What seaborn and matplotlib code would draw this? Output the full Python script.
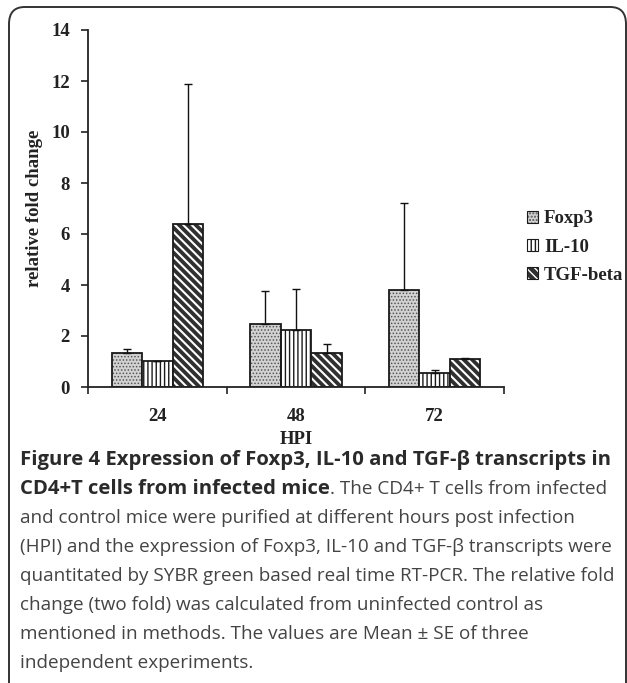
import matplotlib
matplotlib.use("Agg")
import matplotlib.pyplot as plt
import seaborn as sns
import pandas as pd
import numpy as np
from matplotlib.patches import FancyBboxPatch, Patch

# ---- data ----
hpi = ["24", "48", "72"]
series = ["Foxp3", "IL-10", "TGF-beta"]
foxp3 = [1.34, 2.47, 3.80]
il10 = [1.02, 2.24, 0.54]
tgfb = [6.38, 1.33, 1.10]
foxp3_top = [1.50, 3.78, 7.20]
il10_top = [1.02, 3.83, 0.68]
tgfb_top = [11.87, 1.67, 1.15]
yticks = [0, 2, 4, 6, 8, 10, 12, 14]

caption_bold1 = "Figure 4 Expression of Foxp3, IL-10 and TGF-\u03b2 transcripts in"
caption_bold2 = "CD4+T cells from infected mice"
caption_rest2 = ". The CD4+ T cells from infected"
caption_lines = [
    "and control mice were purified at different hours post infection",
    "(HPI) and the expression of Foxp3, IL-10 and TGF-\u03b2 transcripts were",
    "quantitated by SYBR green based real time RT-PCR. The relative fold",
    "change (two fold) was calculated from uninfected control as",
    "mentioned in methods. The values are Mean \u00b1 SE of three",
    "independent experiments.",
]

sns.set_style("white")
serif = ["Liberation Serif", "DejaVu Serif"]
sans = ["Open Sans", "DejaVu Sans"]
FS = 13.5

W, H = 627, 683
fig = plt.figure(figsize=(W / 100, H / 100), dpi=100)

# frame
frame = FancyBboxPatch((9 / W, 1 - 700 / H), (617 / W), (693 / H),
                       boxstyle="round,pad=0,rounding_size=0.025",
                       transform=fig.transFigure, fill=False,
                       edgecolor="#333333", linewidth=1.4, clip_on=False)
fig.patches.append(frame)

ax = fig.add_axes([88 / W, 1 - 387 / H, 416 / W, 357 / H])

df = pd.DataFrame({
    "HPI": hpi * 3,
    "series": sum([[s] * 3 for s in series], []),
    "value": foxp3 + il10 + tgfb,
})
tops = foxp3_top + il10_top + tgfb_top

sns.barplot(data=df, x="HPI", y="value", hue="series", order=hpi,
            hue_order=series, errorbar=None, width=0.66, ax=ax,
            palette=["#c4c4c4", "white", "white"], edgecolor="#1a1a1a",
            linewidth=1.3, legend=False, saturation=1)

hatches = [".....", "||||", "\\\\\\\\"]
faces = ["#d2d2d2", "white", "#303030"]
hcols = ["#555555", "#1a1a1a", "#ffffff"]
hlw = [0.7, 1.0, 1.5]


def style_patch(p, s):
    p.set_hatch(hatches[s])
    p.set_facecolor(faces[s])
    p.set_edgecolor("#1a1a1a")
    try:
        p.set_hatch_linewidth(hlw[s])
    except Exception:
        pass
    p._hatch_color = matplotlib.colors.to_rgba(hcols[s])


bars = [p for p in ax.patches]
for i, p in enumerate(bars):
    style_patch(p, i // 3)

xs = [p.get_x() + p.get_width() / 2 for p in bars]
vals = [p.get_height() for p in bars]
up = [max(t - v, 0) for t, v in zip(tops, vals)]
ax.errorbar(xs, vals, yerr=[np.zeros(len(up)), up], fmt="none",
            ecolor="#111111", elinewidth=1.0, capsize=3.2, capthick=1.0)

ax.set_ylim(0, 14)
ax.set_xlim(-0.5, 2.5)
ax.set_yticks(yticks)
ax.set_yticklabels([str(t) for t in yticks], family=serif, fontweight="bold",
                   fontsize=FS, color="#222222")
ax.set_xticks(range(3))
ax.set_xticklabels(hpi, family=serif, fontweight="bold", fontsize=FS,
                   color="#222222")
ax.set_xticks([-0.5, 0.5, 1.5, 2.5], minor=True)
ax.tick_params(axis="x", which="major", length=0, pad=15)
ax.tick_params(axis="x", which="minor", length=5, width=1.2, direction="out",
               color="#222222", bottom=True)
ax.tick_params(axis="y", length=5, width=1.2, direction="out", pad=8,
               color="#222222", left=True)
for sp in ["top", "right"]:
    ax.spines[sp].set_visible(False)
for sp in ["left", "bottom"]:
    ax.spines[sp].set_color("#222222")
    ax.spines[sp].set_linewidth(1.3)
ax.set_xlabel("")
ax.set_ylabel("relative fold change", family=serif, fontweight="bold",
              fontsize=FS, color="#222222")
ax.yaxis.set_label_coords(-45 / 416, 0.5)
fig.text(296 / W, 1 - 439 / H, "HPI", ha="center", va="center", family=serif,
         fontweight="bold", fontsize=FS, color="#222222")

handles = []
for s in range(3):
    h = Patch(facecolor=faces[s], edgecolor="#1a1a1a", hatch=hatches[s],
              linewidth=0.8, label=series[s])
    handles.append(h)
leg = fig.legend(handles=handles, loc="center left",
                 bbox_to_anchor=(527 / W, 1 - 247 / H), frameon=False,
                 prop={"family": serif, "weight": "bold", "size": FS},
                 handlelength=0.6, handleheight=0.6, handletextpad=0.3,
                 labelspacing=0.6, borderaxespad=0, borderpad=0)
for t in leg.get_texts():
    t.set_color("#222222")
for k, hp in enumerate(leg.get_patches()):
    try:
        hp._hatch_color = matplotlib.colors.to_rgba(hcols[k])
    except Exception:
        pass

# caption
y0 = 465
step = 29
FB = 14.6
FR = 13.6
t1 = fig.text(20 / W, 1 - y0 / H, caption_bold1, family=sans, fontweight="bold",
              fontsize=FB, color="#2a2a2a", va="baseline", ha="left")
t2 = fig.text(20 / W, 1 - (y0 + step) / H, caption_bold2, family=sans,
              fontweight="bold", fontsize=FB, color="#2a2a2a", va="baseline",
              ha="left")
fig.canvas.draw()
bb = t2.get_window_extent()
fig.text(bb.x1 / W, 1 - (y0 + step) / H, caption_rest2, family=sans,
         fontsize=FR, color="#444444", va="baseline", ha="left")
for i, line in enumerate(caption_lines):
    fig.text(20 / W, 1 - (y0 + step * (i + 2)) / H, line, family=sans,
             fontsize=FR, color="#444444", va="baseline", ha="left")

fig.savefig("out.png", dpi=100)
